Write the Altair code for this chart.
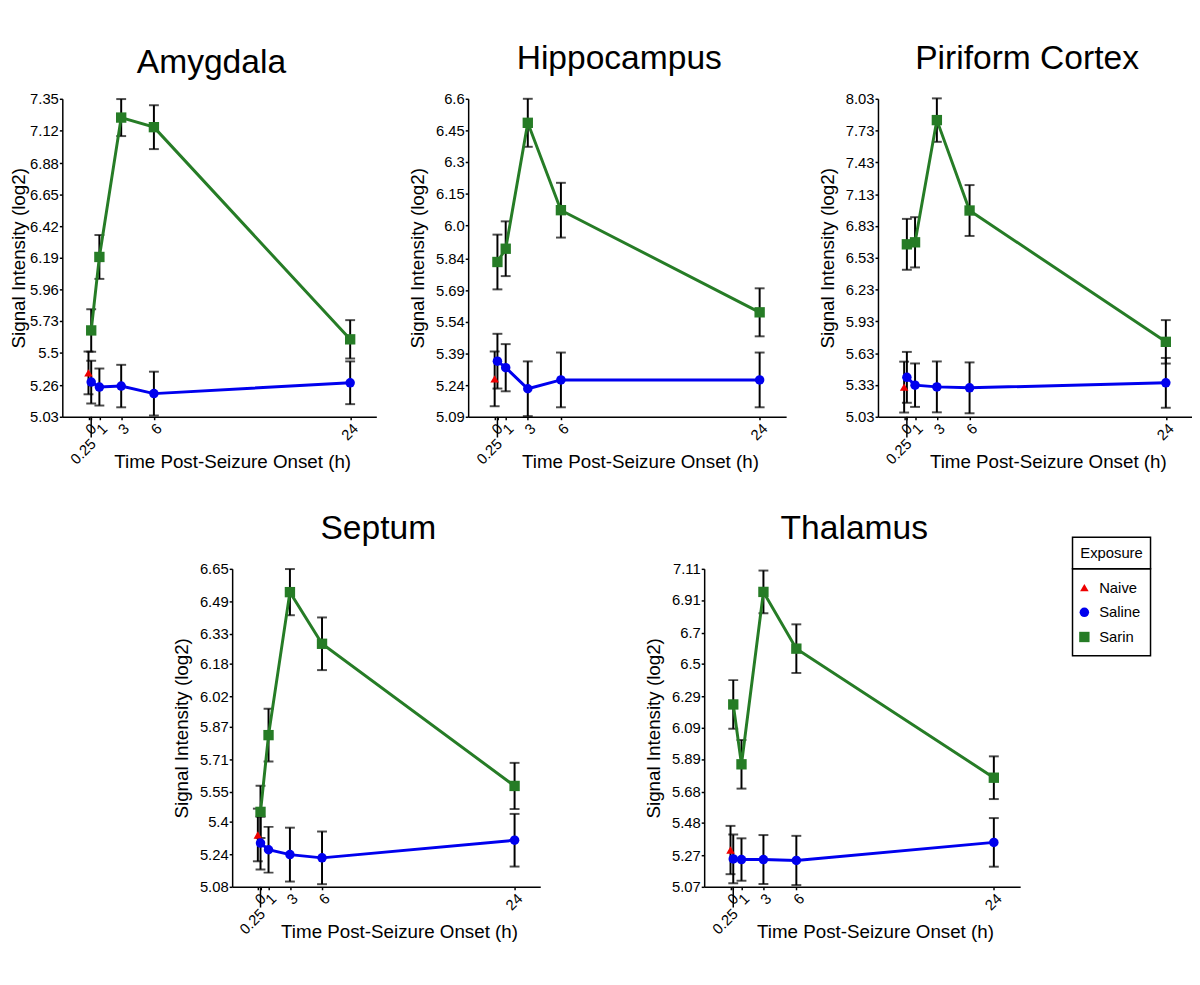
import altair as alt
import pandas as pd

FONT = "Liberation Sans"

times = [0.25, 1, 3, 6, 24]
x_ticks = [0, 0.25, 1, 3, 6, 24]
exposures = ["Naive", "Saline", "Sarin"]
colors = ["#ee0000", "#0000ee", "#267c26"]
shapes = ["triangle-up", "circle", "square"]

# Amygdala
amy_ticks = [5.03, 5.26, 5.5, 5.73, 5.96, 6.19, 6.42, 6.65, 6.88, 7.12, 7.35]
amy_naive = [5.35, 0.156]
amy_saline = [5.283, 5.247, 5.254, 5.199, 5.278]
amy_saline_err = [0.156, 0.135, 0.155, 0.16, 0.156]
amy_sarin = [5.66, 6.196, 7.213, 7.143, 5.595]
amy_sarin_err = [0.155, 0.16, 0.135, 0.16, 0.14]

# Hippocampus
hip_ticks = [5.09, 5.24, 5.39, 5.54, 5.69, 5.84, 6.0, 6.15, 6.3, 6.45, 6.6]
hip_naive = [5.27, 0.13]
hip_saline = [5.354, 5.323, 5.223, 5.265, 5.265]
hip_saline_err = [0.13, 0.112, 0.13, 0.13, 0.13]
hip_sarin = [5.825, 5.888, 6.486, 6.071, 5.586]
hip_sarin_err = [0.13, 0.13, 0.114, 0.13, 0.114]

# Piriform Cortex
pir_ticks = [5.03, 5.33, 5.63, 5.93, 6.23, 6.53, 6.83, 7.13, 7.43, 7.73, 8.03]
pir_naive = [5.31, 0.24]
pir_saline = [5.402, 5.328, 5.312, 5.303, 5.35]
pir_saline_err = [0.24, 0.205, 0.24, 0.24, 0.235]
pir_sarin = [6.657, 6.676, 7.829, 6.976, 5.737]
pir_sarin_err = [0.24, 0.237, 0.205, 0.24, 0.205]

# Septum
sep_ticks = [5.08, 5.24, 5.4, 5.55, 5.71, 5.87, 6.02, 6.18, 6.33, 6.49, 6.65]
sep_naive = [5.336, 0.13]
sep_saline = [5.296, 5.263, 5.239, 5.223, 5.31]
sep_saline_err = [0.13, 0.113, 0.133, 0.13, 0.13]
sep_sarin = [5.45, 5.829, 6.535, 6.28, 5.578]
sep_sarin_err = [0.129, 0.13, 0.114, 0.13, 0.114]

# Thalamus
tha_ticks = [5.07, 5.27, 5.48, 5.68, 5.89, 6.09, 6.29, 6.5, 6.7, 6.91, 7.11]
tha_naive = [5.306, 0.155]
tha_saline = [5.249, 5.245, 5.245, 5.239, 5.355]
tha_saline_err = [0.156, 0.136, 0.157, 0.158, 0.156]
tha_sarin = [6.24, 5.856, 6.962, 6.598, 5.77]
tha_sarin_err = [0.156, 0.156, 0.137, 0.156, 0.137]

X_TITLE = "Time Post-Seizure Onset (h)"
Y_TITLE = "Signal Intensity (log2)"
LEGEND_TITLE = "Exposure"
X_DOMAIN = [-2.4, 26.4]
H = 322

color_scale = alt.Scale(domain=exposures, range=colors)
shape_scale = alt.Scale(domain=exposures, range=shapes)
size_scale = alt.Scale(domain=exposures, range=[75, 110, 125])

Y_LABEL = ("slice(format(datum.value, '.2f'), -1) == '0' ? "
           "format(datum.value, '.1f') : format(datum.value, '.2f')")


def panel(name, ticks, naive, sal, sal_err, sar, sar_err, width, title_dy=0, ytitle_x=-45):
    rows = [dict(t=0, exposure="Naive", mean=naive[0], err=naive[1])]
    rows += [dict(t=t, exposure="Saline", mean=m, err=e) for t, m, e in zip(times, sal, sal_err)]
    rows += [dict(t=t, exposure="Sarin", mean=m, err=e) for t, m, e in zip(times, sar, sar_err)]
    df = pd.DataFrame(rows)

    xs = alt.Scale(domain=X_DOMAIN, nice=False, zero=False)
    ys = alt.Scale(domain=[ticks[0], ticks[-1]], nice=False, zero=False)
    x_axis = alt.Axis(values=x_ticks, labelAngle=315, labelFontSize=15, labelOverlap=False,
                      labelExpr="datum.value == 0.25 ? '' : format(datum.value, 'd')",
                      title=X_TITLE, titleX=width / 2 + 13, titleY=51,
                      titleBaseline="alphabetic", tickSize=3, labelPadding=1)
    y_axis = alt.Axis(values=ticks, labelExpr=Y_LABEL, title=Y_TITLE, labelFontSize=15,
                      labelOverlap=False, titleX=ytitle_x, titleBaseline="alphabetic",
                      tickSize=3, labelPadding=1)

    def X(field):
        return alt.X(field, scale=xs, axis=x_axis)

    def Y(field):
        return alt.Y(field, scale=ys, axis=y_axis)

    base = alt.Chart(df).transform_calculate(
        lo="datum.mean - datum.err", hi="datum.mean + datum.err")

    err_rule = base.mark_rule(color="black", strokeWidth=2).encode(
        x=X("t:Q"), y=Y("lo:Q"), y2="hi:Q")
    cap_lo = base.mark_tick(color="black", orient="horizontal", size=10, thickness=2).encode(
        x=X("t:Q"), y=Y("lo:Q"))
    cap_hi = base.mark_tick(color="black", orient="horizontal", size=10, thickness=2).encode(
        x=X("t:Q"), y=Y("hi:Q"))
    lines = base.transform_filter("datum.exposure != 'Naive'").mark_line(strokeWidth=3).encode(
        x=X("t:Q"), y=Y("mean:Q"),
        color=alt.Color("exposure:N", scale=color_scale, legend=None),
        detail="exposure:N")
    points = base.mark_point(filled=True, opacity=1).encode(
        x=X("t:Q"), y=Y("mean:Q"),
        color=alt.Color("exposure:N", scale=color_scale, legend=None),
        shape=alt.Shape("exposure:N", scale=shape_scale, legend=None),
        size=alt.Size("exposure:N", scale=size_scale, legend=None))

    lab_df = pd.DataFrame({"t": [x_ticks[1]], "label": ["0.25"]})
    long_tick = alt.Chart(lab_df).mark_rule(color="black", strokeWidth=1.5).encode(
        x=X("t:Q"), y=alt.value(H), y2=alt.value(H + 21))
    long_lab = alt.Chart(lab_df).mark_text(
        angle=315, align="right", baseline="middle", fontSize=15, font=FONT,
        color="black", dx=3).encode(
        x=X("t:Q"), y=alt.value(H + 27), text="label:N")

    return alt.layer(err_rule, cap_lo, cap_hi, lines, points, long_tick, long_lab).properties(
        width=width, height=H,
        title=alt.TitleParams(name, fontSize=34, font=FONT, fontWeight="normal",
                              anchor="middle", frame="group", offset=-11, dy=title_dy,
                              baseline="alphabetic", dx=-8, color="black"))


def spacer(w, h):
    return alt.Chart(pd.DataFrame({"a": [0]})).mark_point(opacity=0, size=1).encode(
        x=alt.value(1), y=alt.value(1)).properties(width=w, height=h)


amy = panel("Amygdala", amy_ticks, amy_naive, amy_saline, amy_saline_err, amy_sarin, amy_sarin_err,
            318, title_dy=4, ytitle_x=-38)
hip = panel("Hippocampus", hip_ticks, hip_naive, hip_saline, hip_saline_err, hip_sarin, hip_sarin_err, 322)
pir = panel("Piriform Cortex", pir_ticks, pir_naive, pir_saline, pir_saline_err, pir_sarin, pir_sarin_err, 318)
sep = panel("Septum", sep_ticks, sep_naive, sep_saline, sep_saline_err, sep_sarin, sep_sarin_err, 312)
tha = panel("Thalamus", tha_ticks, tha_naive, tha_saline, tha_saline_err, tha_sarin, tha_sarin_err, 320)

# legend: a single unit view (entries box) with its header box drawn above it
LW, LH, HH = 79, 88, 32
leg_df = pd.DataFrame({"exposure": exposures})
head_df = pd.DataFrame({"h": [LEGEND_TITLE]})
head_box = alt.Chart(head_df).mark_rect(fill="white", stroke="black", strokeWidth=1.5).encode(
    x=alt.value(0), x2=alt.value(LW), y=alt.value(-HH), y2=alt.value(0))
head_txt = alt.Chart(head_df).mark_text(
    fontSize=15, font=FONT, color="black", align="center", baseline="middle").encode(
    x=alt.value(LW / 2), y=alt.value(-HH / 2), text="h:N")
leg_y = alt.Y("exposure:N", scale=alt.Scale(type="point", domain=exposures, padding=0.76), axis=None)
leg_pts = alt.Chart(leg_df).mark_point(filled=True, opacity=1).encode(
    x=alt.value(12), y=leg_y,
    color=alt.Color("exposure:N", scale=color_scale, legend=None),
    shape=alt.Shape("exposure:N", scale=shape_scale, legend=None),
    size=alt.Size("exposure:N", scale=alt.Scale(domain=exposures, range=[150, 150, 140]), legend=None))
leg_txt = alt.Chart(leg_df).mark_text(fontSize=15, font=FONT, color="black",
                                      align="left", baseline="middle").encode(
    x=alt.value(27), y=leg_y, text="exposure:N")
legend = alt.layer(head_box, head_txt, leg_pts, leg_txt).properties(
    width=LW, height=LH, view=alt.ViewBackground(stroke="black", strokeWidth=1.5))

top_row = alt.hconcat(amy, hip, pir, spacing=33)
bottom_row = alt.hconcat(spacer(112, 10), sep, spacer(106, 10), tha, spacer(51, 10), legend,
                         spacing=0)

chart = alt.vconcat(top_row, bottom_row, spacing=42).properties(
    padding={"left": 2, "top": 29, "right": 0, "bottom": 0}
).configure_view(stroke=None).configure_axis(
    grid=False, domainColor="black", domainWidth=1.5, tickColor="black", tickWidth=1.5,
    labelColor="black", labelFont=FONT, labelFontSize=15, titleFont=FONT,
    titleFontSize=19, titleFontWeight="normal", titleColor="black", labelOverlap=False
).configure_text(font=FONT)

chart.save("out.html", embed_options={"renderer": "svg", "actions": False})
